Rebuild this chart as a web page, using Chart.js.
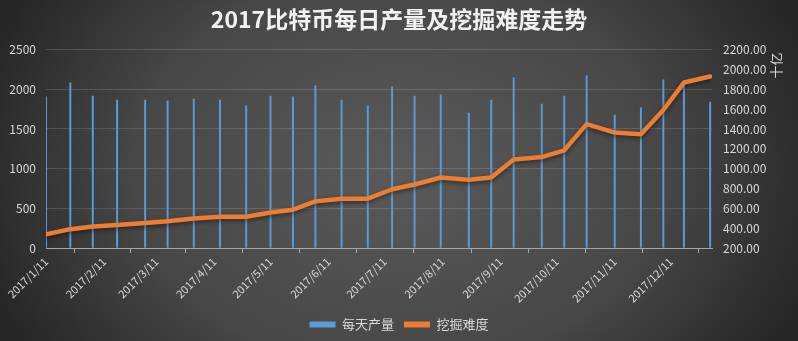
<!DOCTYPE html>
<html>
<head>
<meta charset="utf-8">
<script src="https://cdn.jsdelivr.net/npm/chart.js@4.4.0/dist/chart.umd.min.js"></script>
<style>
  html, body { margin: 0; padding: 0; background: #2b2b2b; }
</style>
</head>
<body>
<canvas id="chart" width="798" height="341"></canvas>
<script>
// === DATA ===
const chartTitle = "2017比特币每日产量及挖掘难度走势";
const rightAxisTitle = "十亿";
const seriesNames = ["每天产量", "挖掘难度"];

const dates = [
  "2017/1/11", "2017/1/24", "2017/2/5", "2017/2/18", "2017/3/5", "2017/3/17", "2017/3/31",
  "2017/4/14", "2017/4/28", "2017/5/11", "2017/5/23", "2017/6/4", "2017/6/18", "2017/7/2",
  "2017/7/15", "2017/7/27", "2017/8/10", "2017/8/25", "2017/9/6", "2017/9/18", "2017/10/3",
  "2017/10/15", "2017/10/27", "2017/11/11", "2017/11/25", "2017/12/7", "2017/12/18", "2018/1/1"
];
const production = [
  1905, 2080, 1915, 1865, 1865, 1855, 1880,
  1865, 1790, 1915, 1905, 2045, 1865, 1790,
  2030, 1915, 1930, 1700, 1865, 2145, 1815,
  1915, 2170, 1675, 1765, 2120, 2090, 1840
];
const difficulty = [
  339, 390, 416, 433, 451, 469, 497,
  515, 515, 558, 586, 670, 697, 697,
  792, 840, 911, 887, 911, 1093, 1117,
  1185, 1449, 1364, 1347, 1591, 1868, 1929
];
const tickDates = [
  "2017/1/11", "2017/2/11", "2017/3/11", "2017/4/11", "2017/5/11", "2017/6/11",
  "2017/7/11", "2017/8/11", "2017/9/11", "2017/10/11", "2017/11/11", "2017/12/11"
];
const axisEnd = "2018/1/2";

// days since first date
function dayOf(s) {
  const p = s.split("/").map(Number);
  return (Date.UTC(p[0], p[1] - 1, p[2]) - Date.UTC(2017, 0, 11)) / 86400000;
}

const FONT = '"Noto Sans CJK SC", "Noto Sans", sans-serif';
const TXT = '#d9d9d9';

// === PLUGINS ===
const background = {
  id: 'background',
  beforeDraw(chart) {
    const { ctx, width, height } = chart;
    ctx.save();
    ctx.translate(width / 2, height / 2);
    ctx.scale(1, 0.75);
    const g = ctx.createRadialGradient(0, 0, 0, 0, 0, width * 0.55);
    g.addColorStop(0, '#5a5a5a');
    g.addColorStop(0.6, '#474747');
    g.addColorStop(1, '#262626');
    ctx.fillStyle = g;
    ctx.fillRect(-width, -height * 2, width * 2, height * 4);
    ctx.restore();
  }
};

const sideTitle = {
  id: 'sideTitle',
  afterDraw(chart) {
    const { ctx } = chart;
    const s = chart.scales.y1;
    ctx.save();
    ctx.translate(s.right - 22, s.top + 16);
    ctx.rotate(-Math.PI / 2);
    ctx.font = '13px ' + FONT;
    ctx.fillStyle = TXT;
    ctx.textAlign = 'center';
    ctx.textBaseline = 'middle';
    ctx.fillText(rightAxisTitle, 0, 0);
    ctx.restore();
  }
};

const lineShadow = {
  id: 'lineShadow',
  beforeDatasetDraw(chart, args) {
    if (args.index !== 1) return;
    const ctx = chart.ctx;
    ctx.save();
    ctx.shadowColor = 'rgba(0,0,0,0.45)';
    ctx.shadowBlur = 4;
    ctx.shadowOffsetY = 2;
  },
  afterDatasetDraw(chart, args) {
    if (args.index !== 1) return;
    chart.ctx.restore();
  }
};

// === CHART SETUP ===
const defaultLabels = Chart.defaults.plugins.legend.labels.generateLabels;

new Chart(document.getElementById("chart"), {
  data: {
    datasets: [{
      type: 'bar',
      label: seriesNames[0],
      data: dates.map((d, i) => ({ x: dayOf(d), y: production[i] })),
      backgroundColor: '#5b9bd5',
      barThickness: 1.3,
      yAxisID: 'y',
      order: 1
    }, {
      type: 'line',
      label: seriesNames[1],
      data: dates.map((d, i) => ({ x: dayOf(d), y: difficulty[i] })),
      borderColor: '#ed7d31',
      backgroundColor: '#ed7d31',
      borderWidth: 4.5,
      borderJoinStyle: 'round',
      borderCapStyle: 'round',
      pointRadius: 0,
      tension: 0,
      yAxisID: 'y1',
      order: 0
    }]
  },
  options: {
    responsive: false,
    animation: false,
    layout: { padding: { left: 0, right: 0, top: 0, bottom: 0 } },
    plugins: {
      title: {
        display: true,
        text: chartTitle,
        color: '#f2f2f2',
        font: { family: FONT, size: 23, weight: 'bold' },
        padding: { top: 5, bottom: 17 }
      },
      legend: {
        position: 'bottom',
        labels: {
          color: TXT,
          font: { family: FONT, size: 13 },
          boxWidth: 26,
          boxHeight: 6,
          padding: 10,
          sort: (a, b) => a.datasetIndex - b.datasetIndex,
          generateLabels(chart) {
            return defaultLabels(chart).map(l => {
              l.lineWidth = 0;
              l.strokeStyle = 'rgba(0,0,0,0)';
              return l;
            });
          }
        }
      },
      tooltip: { enabled: false }
    },
    scales: {
      x: {
        type: 'linear',
        offset: false,
        min: 0,
        max: dayOf(axisEnd),
        afterBuildTicks: s => { s.ticks = tickDates.map(d => ({ value: dayOf(d) })); },
        afterFit: s => { s.height = 60; },
        ticks: {
          autoSkip: false,
          color: TXT,
          font: { family: FONT, size: 11 },
          maxRotation: 45,
          minRotation: 45,
          padding: 2,
          callback: (v, i) => tickDates[i]
        },
        grid: {
          drawOnChartArea: false,
          drawTicks: true,
          tickLength: 5,
          color: '#a6a6a6'
        },
        border: { display: true, color: '#a6a6a6', width: 1 }
      },
      y: {
        position: 'left',
        min: 0,
        max: 2500,
        afterFit: s => { s.width = 46; },
        ticks: {
          stepSize: 500,
          color: TXT,
          font: { family: FONT, size: 12 },
          padding: 10,
          callback: v => String(v)
        },
        grid: { color: 'rgba(255,255,255,0.14)', drawTicks: false },
        border: { display: false }
      },
      y1: {
        position: 'right',
        min: 200,
        max: 2200,
        afterFit: s => { s.width = 86; },
        ticks: {
          stepSize: 200,
          color: TXT,
          font: { family: FONT, size: 12 },
          padding: 11,
          callback: v => v.toFixed(2)
        },
        grid: { drawOnChartArea: false, drawTicks: false },
        border: { display: false }
      }
    }
  },
  plugins: [background, sideTitle, lineShadow]
});
</script>
</body>
</html>
